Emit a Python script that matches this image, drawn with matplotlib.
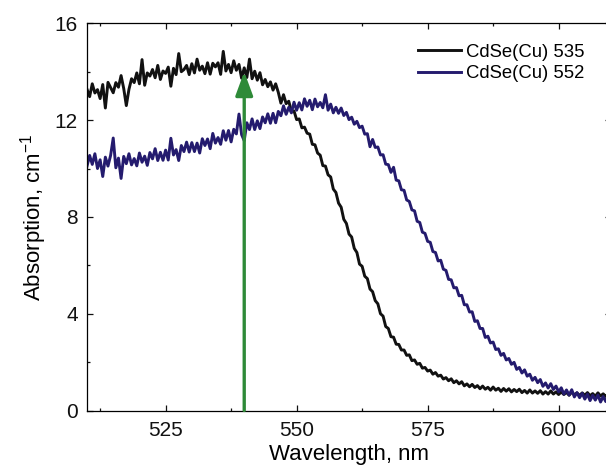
import numpy as np
import matplotlib.pyplot as plt

plt.rcParams['font.family'] = ['Liberation Sans', 'DejaVu Sans']
plt.rcParams['mathtext.default'] = 'regular'

# spectra every 0.5 nm
wavelength = np.arange(510, 610.01, 0.5)

cdse_535 = [13.27, 12.97, 13.5, 13.12, 13.26, 12.89, 13.47, 12.5, 13.56, 13.35,
            13.13, 13.55, 13.36, 13.84, 13.31, 12.6, 13.27, 13.71, 13.55, 13.95,
            13.5, 14.5, 13.44, 13.95, 13.82, 14.09, 13.75, 14.26, 13.68, 14.03,
            13.93, 14.19, 13.4, 14.14, 13.88, 14.75, 14.0, 14.09, 14.26, 13.88,
            14.33, 13.95, 14.52, 14.06, 14.23, 13.92, 14.37, 13.9, 14.35, 14.2,
            14.37, 13.89, 14.84, 14.03, 14.3, 13.96, 14.45, 14.06, 14.3, 13.73,
            14.16, 13.76, 14.52, 13.71, 14.02, 13.65, 13.96, 13.46, 13.68, 13.38,
            13.58, 13.24, 13.5, 13.15, 12.7, 13.05, 12.68, 12.78, 12.37, 12.38,
            12.02, 12.05, 11.68, 11.71, 11.46, 11.42, 11.0, 10.98, 10.64, 10.55,
            10.12, 10.1, 9.74, 9.65, 9.15, 9.01, 8.57, 8.4, 7.9, 7.73,
            7.29, 7.17, 6.7, 6.53, 6.05, 5.96, 5.55, 5.45, 5.02, 4.91,
            4.54, 4.41, 4.0, 3.9, 3.47, 3.39, 3.05, 3.03, 2.74, 2.73,
            2.5, 2.5, 2.28, 2.3, 2.06, 2.09, 1.91, 1.95, 1.75, 1.78,
            1.63, 1.67, 1.5, 1.57, 1.42, 1.46, 1.3, 1.36, 1.23, 1.31,
            1.15, 1.23, 1.1, 1.19, 1.02, 1.1, 0.98, 1.08, 0.95, 1.03,
            0.9, 1.01, 0.88, 0.96, 0.84, 0.97, 0.84, 0.92, 0.79, 0.91,
            0.8, 0.9, 0.77, 0.87, 0.78, 0.88, 0.74, 0.83, 0.72, 0.85,
            0.72, 0.81, 0.71, 0.82, 0.68, 0.78, 0.68, 0.81, 0.68, 0.77,
            0.66, 0.77, 0.66, 0.75, 0.63, 0.76, 0.65, 0.73, 0.62, 0.73,
            0.63, 0.74, 0.61, 0.7, 0.59, 0.73, 0.6, 0.69, 0.58, 0.69,
            0.6]

cdse_552 = [10.1, 10.54, 10.17, 10.61, 10.0, 10.36, 9.67, 10.47, 10.1, 10.54,
            11.26, 10.03, 10.43, 9.59, 10.5, 10.2, 10.61, 10.15, 10.41, 10.11,
            10.64, 10.26, 10.51, 10.13, 10.66, 10.4, 10.82, 10.33, 10.67, 10.34,
            10.76, 10.35, 11.25, 10.56, 10.78, 10.33, 10.95, 10.7, 11.09, 10.68,
            11.07, 10.7, 11.05, 10.64, 11.23, 10.95, 11.22, 10.82, 11.45, 11.05,
            11.28, 11.0, 11.56, 11.17, 11.57, 11.1, 11.62, 11.43, 12.25, 11.4,
            11.15, 11.89, 11.61, 12.05, 11.61, 11.97, 11.65, 12.13, 11.89, 12.26,
            11.87, 12.28, 11.89, 12.36, 12.18, 12.59, 12.24, 12.53, 12.3, 12.74,
            12.41, 12.72, 12.42, 12.88, 12.57, 12.82, 12.43, 12.87, 12.55, 12.73,
            12.51, 13.05, 12.41, 12.66, 12.3, 12.53, 12.28, 12.5, 12.19, 12.32,
            12.02, 12.12, 11.83, 11.95, 11.69, 11.75, 11.42, 11.44, 10.9, 11.2,
            10.87, 10.89, 10.56, 10.57, 10.18, 10.16, 9.84, 10.05, 9.52, 9.49,
            9.12, 9.1, 8.7, 8.64, 8.29, 8.25, 7.82, 7.77, 7.37, 7.32,
            6.99, 6.95, 6.57, 6.53, 6.18, 6.21, 5.84, 5.79, 5.42, 5.4,
            5.07, 5.08, 4.74, 4.76, 4.37, 4.37, 4.07, 4.08, 3.68, 3.71,
            3.39, 3.39, 3.02, 3.07, 2.79, 2.83, 2.52, 2.55, 2.28, 2.36,
            2.09, 2.15, 1.91, 1.99, 1.7, 1.78, 1.55, 1.68, 1.42, 1.5,
            1.25, 1.37, 1.15, 1.28, 1.0, 1.14, 0.93, 1.11, 0.87, 1.01,
            0.77, 0.94, 0.68, 0.85, 0.64, 0.86, 0.56, 0.74, 0.53, 0.71,
            0.47, 0.68, 0.41, 0.63, 0.43, 0.64, 0.35, 0.58, 0.37, 0.58,
            0.4]

labels = ['CdSe(Cu) 535', 'CdSe(Cu) 552']
arrow_x = 540
arrow_top = 14.0

fig = plt.figure(figsize=(6.06, 4.69), dpi=100)
ax = fig.add_axes([0.1436, 0.1247, 0.8647, 0.8256])

ax.plot(wavelength, cdse_535, color='#111111', lw=2.1, label=labels[0])
ax.plot(wavelength, cdse_552, color='#241b6e', lw=2.1, label=labels[1])

ax.annotate('', xy=(arrow_x, arrow_top), xytext=(arrow_x, 0),
            arrowprops=dict(arrowstyle='-|>,head_length=0.6,head_width=0.22',
                            color='#2e8a38', lw=2.4, mutation_scale=24,
                            shrinkA=0, shrinkB=0), zorder=5)

ax.set_xlim(510, 610)
ax.set_ylim(0, 16)
ax.set_xticks([525, 550, 575, 600])
ax.set_xticks(np.arange(512.5, 610, 25), minor=True)
ax.set_yticks([0, 4, 8, 12, 16])
ax.set_yticks([2, 6, 10, 14], minor=True)
ax.tick_params(which='both', direction='in', top=True, right=True, width=0.9,
               labelsize=15, colors='#111111')
ax.tick_params(which='major', length=4.5)
ax.tick_params(which='minor', length=2.5)
ax.tick_params(axis='x', which='major', pad=7.5)
ax.tick_params(axis='y', which='major', pad=6.5)
for s in ax.spines.values():
    s.set_linewidth(0.9)

ax.set_xlabel('Wavelength, nm', fontsize=16, labelpad=3)
ax.set_ylabel('Absorption, cm$^{-1}$', fontsize=16, labelpad=4)

ax.legend(loc='upper left', bbox_to_anchor=(0.69, 0.907), bbox_transform=fig.transFigure,
          frameon=False, fontsize=13.3, handlelength=2.3, handletextpad=0.3,
          labelspacing=0.25, borderpad=0, borderaxespad=0)

fig.savefig('out.png', dpi=100)
